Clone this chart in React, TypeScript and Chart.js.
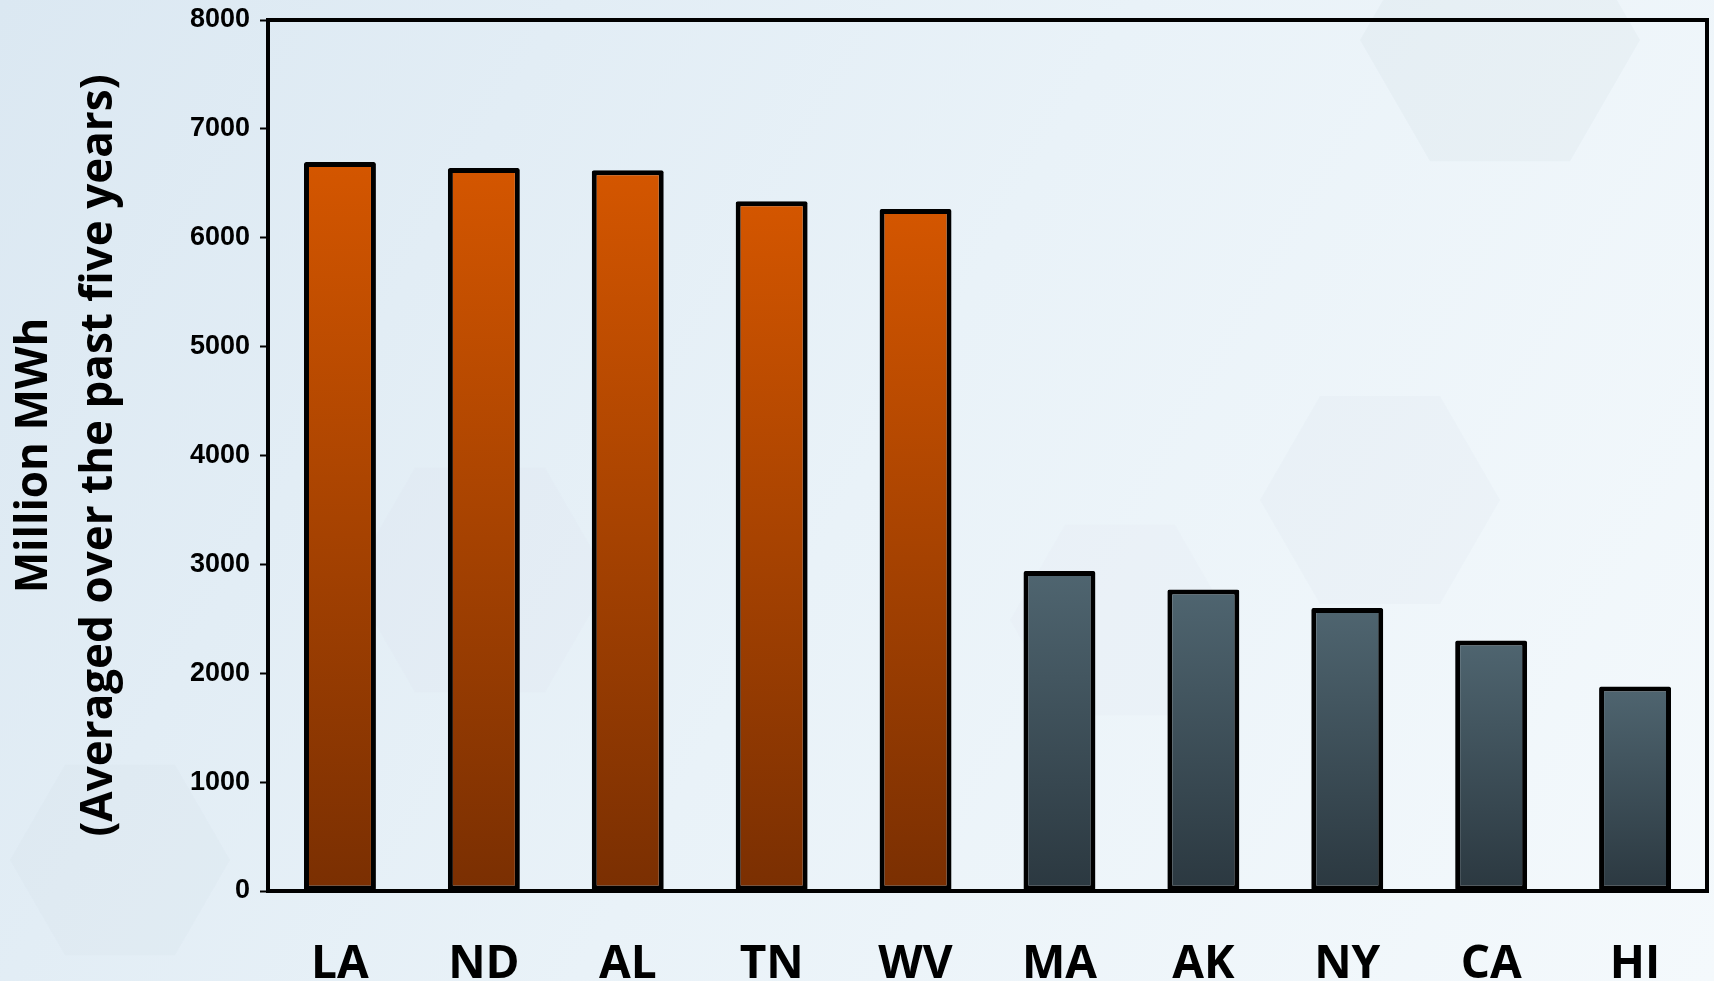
import React, { useEffect, useRef } from "react";
import { Chart, registerables } from "chart.js";

Chart.register(...registerables);

const states = ["LA", "ND", "AL", "TN", "WV", "MA", "AK", "NY", "CA", "HI"];
const values = [6695, 6640, 6620, 6335, 6265, 2940, 2770, 2600, 2300, 1878];
const groups = ["high", "high", "high", "high", "high", "low", "low", "low", "low", "low"];
const yTicks = [0, 1000, 2000, 3000, 4000, 5000, 6000, 7000, 8000];
const yTitle = ["Million MWh", "(Averaged over the past five years)"];

const gradientStops: Record<string, [string, string]> = {
  high: ["#d45600", "#7a2f02"],
  low: ["#4f6570", "#2b3840"],
};

const W = 1714;
const H = 981;

const backgroundPlugin = {
  id: "bgPlugin",
  beforeDraw(chart: any) {
    const { ctx, width, height } = chart;
    ctx.save();
    const g = ctx.createLinearGradient(0, 0, width, height);
    g.addColorStop(0, "#dbe8f2");
    g.addColorStop(0.5, "#e9f2f8");
    g.addColorStop(1, "#f4f9fc");
    ctx.fillStyle = g;
    ctx.fillRect(0, 0, width, height);
    const hex = (cx: number, cy: number, r: number, alpha: number) => {
      ctx.beginPath();
      for (let i = 0; i < 6; i++) {
        const a = (Math.PI / 3) * i;
        const px = cx + r * Math.cos(a);
        const py = cy + r * Math.sin(a);
        if (i === 0) ctx.moveTo(px, py);
        else ctx.lineTo(px, py);
      }
      ctx.closePath();
      ctx.fillStyle = `rgba(190,205,215,${alpha})`;
      ctx.fill();
    };
    hex(1500, 40, 140, 0.12);
    hex(1380, 500, 120, 0.07);
    hex(120, 860, 110, 0.07);
    hex(480, 580, 130, 0.05);
    hex(1120, 620, 110, 0.05);
    ctx.restore();
  },
};

const framePlugin = {
  id: "framePlugin",
  afterDraw(chart: any) {
    const { ctx, chartArea } = chart;
    ctx.save();
    ctx.strokeStyle = "#000";
    ctx.lineWidth = 4;
    ctx.strokeRect(chartArea.left, chartArea.top, chartArea.right - chartArea.left, chartArea.bottom - chartArea.top);
    ctx.restore();
  },
};

export default function App() {
  const ref = useRef<HTMLCanvasElement | null>(null);

  useEffect(() => {
    if (!ref.current) return;
    const chart = new Chart(ref.current, {
      type: "bar",
      data: {
        labels: states,
        datasets: [
          {
            data: values,
            backgroundColor: (c: any) => {
              const chart = c.chart;
              const grp = groups[c.dataIndex] || "high";
              const [top, bot] = gradientStops[grp];
              if (!chart.chartArea || c.type !== "data") return top;
              const y = chart.scales.y;
              const y0 = y.getPixelForValue(c.raw);
              const y1 = y.getPixelForValue(0);
              const g = chart.ctx.createLinearGradient(0, y0, 0, y1);
              g.addColorStop(0, top);
              g.addColorStop(1, bot);
              return g;
            },
            borderColor: "#000",
            borderWidth: 5,
            borderSkipped: false,
            borderRadius: 2,
            barPercentage: 0.5,
            categoryPercentage: 1,
          },
        ],
      },
      options: {
        responsive: false,
        animation: false,
        devicePixelRatio: 1,
        layout: { padding: { top: 20, right: 7, left: 0, bottom: 0 } },
        plugins: { legend: { display: false }, tooltip: { enabled: false } },
        scales: {
          x: {
            grid: { display: false },
            border: { display: false },
            ticks: {
              color: "#000",
              padding: 38,
              font: { family: "'Open Sans', sans-serif", weight: "bold", size: 46 },
            },
            afterFit: (s: any) => {
              s.height = 90;
              s.paddingLeft = 0;
              s.paddingRight = 0;
            },
          },
          y: {
            min: 0,
            max: 8000,
            afterBuildTicks: (s: any) => {
              s.ticks = yTicks.map((v) => ({ value: v }));
            },
            grid: {
              drawOnChartArea: false,
              drawTicks: true,
              tickLength: 8,
              tickWidth: 2,
              tickColor: "#000",
              color: "#000",
            },
            border: { display: false },
            ticks: {
              color: "#000",
              padding: 10,
              callback: (v: any) => String(v),
              font: { family: "'Liberation Sans', Arial, sans-serif", weight: "bold", size: 27 },
            },
            title: {
              display: true,
              text: yTitle,
              color: "#000",
              padding: { top: 2, bottom: 0 },
              font: { family: "'Open Sans', sans-serif", weight: "bold", size: 44, lineHeight: 1.48 },
            },
            afterFit: (s: any) => {
              s.width = 268;
              s.paddingTop = 0;
              s.paddingBottom = 0;
            },
          },
        },
      },
      plugins: [backgroundPlugin, framePlugin],
    } as any);
    return () => chart.destroy();
  }, []);

  return (
    <div style={{ position: "fixed", left: 0, top: 0, width: W, height: H }}>
      <canvas ref={ref} width={W} height={H} style={{ width: W, height: H, display: "block" }} />
    </div>
  );
}
